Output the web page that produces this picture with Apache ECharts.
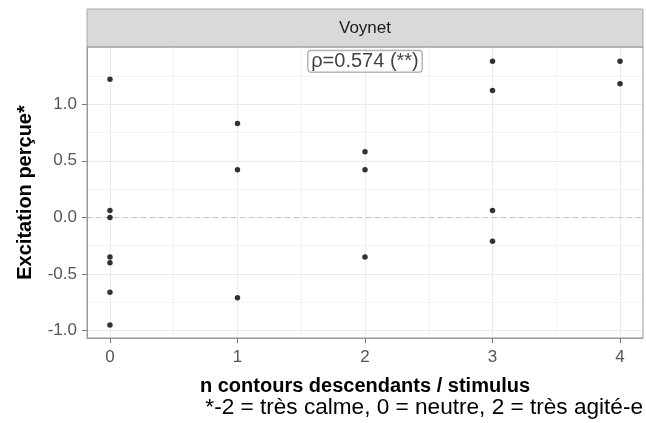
<!DOCTYPE html>
<html style="height: 100%">
<head>
    <meta charset="utf-8">
    <title>Voynet</title>
    <script type="text/javascript" src="https://cdn.jsdelivr.net/npm/echarts@6/dist/echarts.min.js"></script>
</head>
<body style="height: 100%; margin: 0; background: #fff">
    <div id="container" style="width: 646px; height: 423px"></div>
    <script type="text/javascript">
        // n contours descendants / stimulus
        var contours = [0, 0, 0, 0, 0, 0, 0, 1, 1, 1, 2, 2, 2, 3, 3, 3, 3, 4, 4];
        // excitation perçue (moyenne)
        var excitation = [1.22, 0.06, 0.0, -0.35, -0.40, -0.66, -0.95,
            0.83, 0.42, -0.71,
            0.58, 0.42, -0.35,
            1.38, 1.12, 0.06, -0.21,
            1.38, 1.18];
        var xTicks = [0, 1, 2, 3, 4];
        var xMinor = [0.5, 1.5, 2.5, 3.5];
        var yTicks = [-1, -0.5, 0, 0.5, 1];
        var yMinor = [-0.75, -0.25, 0.25, 0.75, 1.25];
        var annot = { x: 2, y: 1.38, text: 'ρ=0.574 (**)' };
        var panelTitle = 'Voynet';
        var caption = '*-2 = très calme, 0 = neutre, 2 = très agité-e';

        var points = [];
        for (var i = 0; i < contours.length; i++) {
            points.push([contours[i], excitation[i]]);
        }

        var font = 'Liberation Sans, Arial, sans-serif';
        var chart = echarts.init(document.getElementById('container'));

        var option = {
            animation: false,
            textStyle: { fontFamily: font },
            grid: { left: 87, right: 3, top: 47, bottom: 85 },
            xAxis: [{
                type: 'value', min: -0.18, max: 4.18,
                name: 'n contours descendants / stimulus',
                nameLocation: 'middle', nameGap: 38,
                nameTextStyle: { fontSize: 20, fontWeight: 'bold', color: '#000' },
                axisLine: { show: true, onZero: false, lineStyle: { color: '#999' } },
                axisTick: { show: true, length: 5, customValues: xTicks, lineStyle: { color: '#777' } },
                axisLabel: { customValues: xTicks, fontSize: 17, color: '#555', margin: 11 },
                splitLine: { show: true, lineStyle: { color: '#ebebeb', width: 1 } }
            }, {
                // lignes secondaires
                type: 'value', min: -0.18, max: 4.18, position: 'bottom',
                axisLine: { show: false }, axisLabel: { show: false },
                axisTick: { show: false, customValues: xMinor },
                splitLine: { show: true, lineStyle: { color: '#f4f4f4', width: 1 } }
            }],
            yAxis: [{
                type: 'value', min: -1.065, max: 1.505,
                name: 'Excitation perçue*',
                nameLocation: 'middle', nameGap: 52,
                nameTextStyle: { fontSize: 20, fontWeight: 'bold', color: '#000' },
                axisLine: { show: true, onZero: false, lineStyle: { color: '#999' } },
                axisTick: { show: true, length: 5, customValues: yTicks, lineStyle: { color: '#777' } },
                axisLabel: {
                    customValues: yTicks, fontSize: 17, color: '#555', margin: 10,
                    formatter: function (v) { return v.toFixed(1); }
                },
                splitLine: { show: true, lineStyle: { color: '#ebebeb', width: 1 } }
            }, {
                type: 'value', min: -1.065, max: 1.505, position: 'left',
                axisLine: { show: false }, axisLabel: { show: false },
                axisTick: { show: false, customValues: yMinor },
                splitLine: { show: true, lineStyle: { color: '#f4f4f4', width: 1 } }
            }],
            series: [{
                type: 'scatter',
                data: points,
                symbolSize: 5.5,
                itemStyle: { color: '#000' },
                z: 5,
                markLine: {
                    silent: true,
                    symbol: 'none',
                    label: { show: false },
                    lineStyle: { color: '#c2c2c2', type: [5, 4], width: 1 },
                    data: [{ yAxis: 0 }]
                }
            }, {
                type: 'scatter',
                data: [[annot.x, annot.y]],
                symbolSize: 0,
                z: 6,
                label: {
                    show: true, position: 'inside',
                    formatter: annot.text,
                    fontSize: 20, color: '#111',
                    backgroundColor: '#fff', borderColor: '#888', borderWidth: 1,
                    borderRadius: 3, padding: [1, 3, 0, 3]
                }
            }],
            graphic: [{
                type: 'rect',
                shape: { x: 87, y: 9, width: 556, height: 38 },
                style: { fill: '#d9d9d9', stroke: '#a8a8a8', lineWidth: 1 }
            }, {
                type: 'text',
                x: 365, y: 28,
                style: {
                    text: panelTitle, font: '17px ' + font, fill: '#1a1a1a',
                    textAlign: 'center', textVerticalAlign: 'middle'
                }
            }, {
                type: 'rect',
                shape: { x: 87, y: 47, width: 556, height: 291 },
                style: { fill: 'none', stroke: '#999', lineWidth: 1 },
                z: 10
            }, {
                type: 'text',
                right: 3, top: 396,
                style: { text: caption, font: '22.6px ' + font, fill: '#000' }
            }]
        };
        chart.setOption(option);
    </script>
</body>
</html>
